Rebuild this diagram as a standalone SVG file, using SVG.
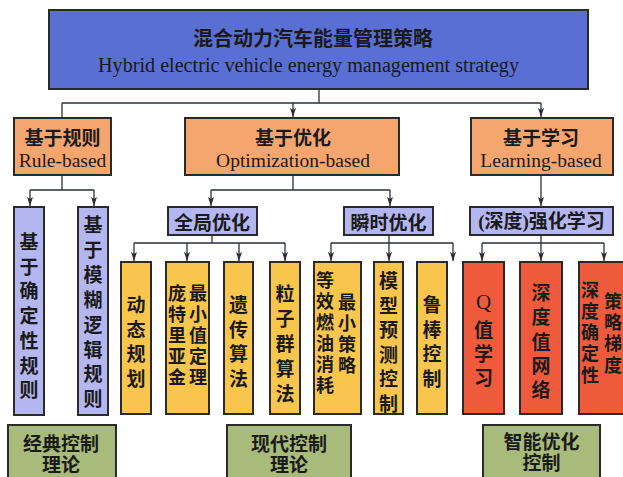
<svg xmlns="http://www.w3.org/2000/svg" width="623" height="477" viewBox="0 0 623 477">
<defs>
<marker id="ah" markerUnits="userSpaceOnUse" markerWidth="10" markerHeight="8" refX="9" refY="3" orient="auto">
<path d="M0,0 L9,3 L0,6 L2,3 z" fill="#2b2f3a"/>
</marker>
<style>
.box{stroke:#2a2a2a;stroke-width:2}
.top{fill:#5a6fd3}
.org{fill:#f5a56e}
.lb{fill:#b4b6f0}
.yl{fill:#f8c64c}
.rd{fill:#f05a3c}
.gr{fill:#a8bb7a}
.cn{font-family:"Noto Sans CJK SC","Liberation Serif",sans-serif;font-weight:700;fill:#1a1a1a}
.en{font-family:"Liberation Serif","Noto Sans CJK SC",serif;fill:#1a1a1a}
.c{text-anchor:middle}
.v{text-anchor:middle;dominant-baseline:central}
.ln{fill:none;stroke:#2b2f3a;stroke-width:1.3}
</style>
</defs>
<rect width="623" height="477" fill="#ffffff"/>

<g id="connectors">
<path class="ln" d="M319,89 V103 M62,103 H541 M62,103 V117"/>
<path class="ln" d="M293,103 V117" marker-end="url(#ah)"/>
<path class="ln" d="M541,103 V117" marker-end="url(#ah)"/>
<path class="ln" d="M62,175 V190 M30,190 H94"/>
<path class="ln" d="M30,190 V206" marker-end="url(#ah)"/>
<path class="ln" d="M94,190 V206" marker-end="url(#ah)"/>
<path class="ln" d="M293,175 V190 M211,190 H390"/>
<path class="ln" d="M211,190 V206" marker-end="url(#ah)"/>
<path class="ln" d="M390,190 V206" marker-end="url(#ah)"/>
<path class="ln" d="M541,175 V206" marker-end="url(#ah)"/>
<path class="ln" d="M212,235 V243 M134,243 H285"/>
<path class="ln" d="M134,243 V261" marker-end="url(#ah)"/>
<path class="ln" d="M187,243 V261" marker-end="url(#ah)"/>
<path class="ln" d="M239,243 V261" marker-end="url(#ah)"/>
<path class="ln" d="M285,243 V261" marker-end="url(#ah)"/>
<path class="ln" d="M389,235 V243 M331,243 H453"/>
<path class="ln" d="M331,243 V261" marker-end="url(#ah)"/>
<path class="ln" d="M389,243 V261" marker-end="url(#ah)"/>
<path class="ln" d="M453,243 V261" marker-end="url(#ah)"/>
<path class="ln" d="M541,235 V243 M482,243 H604"/>
<path class="ln" d="M482,243 V261" marker-end="url(#ah)"/>
<path class="ln" d="M541,243 V261" marker-end="url(#ah)"/>
<path class="ln" d="M604,243 V261" marker-end="url(#ah)"/>
</g>

<g id="root">
<rect class="box top" x="49" y="10" width="539" height="79"/>
<text class="cn c" x="313" y="46" font-size="20">混合动力汽车能量管理策略</text>
<text class="en c" x="308.5" y="72" font-size="20" textLength="421" lengthAdjust="spacingAndGlyphs">Hybrid electric vehicle energy management strategy</text>
</g>

<g id="rule-based">
<rect class="box org" x="14" y="118" width="97" height="57"/>
<text class="cn c" x="62.5" y="145" font-size="19">基于规则</text>
<text class="en c" x="62.5" y="167" font-size="19.5">Rule-based</text>
</g>
<g id="optimization-based">
<rect class="box org" x="185" y="118" width="214" height="57"/>
<text class="cn c" x="293" y="145" font-size="19">基于优化</text>
<text class="en c" x="293" y="167" font-size="19.5">Optimization-based</text>
</g>
<g id="learning-based">
<rect class="box org" x="471" y="118" width="142" height="57"/>
<text class="cn c" x="541" y="145" font-size="19">基于学习</text>
<text class="en c" x="541" y="167" font-size="19.5">Learning-based</text>
</g>

<g id="deterministic-rule">
<rect class="box lb" x="14" y="207" width="30" height="208"/>
<text class="cn v" font-size="19"><tspan x="29" y="240">基</tspan><tspan x="29" y="264.7">于</tspan><tspan x="29" y="289.4">确</tspan><tspan x="29" y="314.1">定</tspan><tspan x="29" y="338.8">性</tspan><tspan x="29" y="363.5">规</tspan><tspan x="29" y="388">则</tspan></text>
</g>
<g id="fuzzy-rule">
<rect class="box lb" x="78" y="207" width="30" height="208"/>
<text class="cn v" font-size="19"><tspan x="93" y="223">基</tspan><tspan x="93" y="247.9">于</tspan><tspan x="93" y="272.8">模</tspan><tspan x="93" y="297.7">糊</tspan><tspan x="93" y="322.6">逻</tspan><tspan x="93" y="347.5">辑</tspan><tspan x="93" y="372.4">规</tspan><tspan x="93" y="397">则</tspan></text>
</g>

<g id="global-opt">
<rect class="box lb" x="168" y="207" width="89" height="28"/>
<text class="cn v" x="212" y="221" font-size="19">全局优化</text>
</g>
<g id="instant-opt">
<rect class="box lb" x="344" y="207" width="89" height="28"/>
<text class="cn v" x="388.5" y="221" font-size="19">瞬时优化</text>
</g>
<g id="deep-rl">
<rect class="box lb" x="470" y="207" width="143" height="28"/>
<text class="en v" x="541.5" y="221" font-size="19" font-weight="700">(深度)强化学习</text>
</g>

<g id="dp">
<rect class="box yl" x="121" y="262" width="30" height="152"/>
<text class="cn v" font-size="19"><tspan x="136" y="303">动</tspan><tspan x="136" y="327.7">态</tspan><tspan x="136" y="352.4">规</tspan><tspan x="136" y="377">划</tspan></text>
</g>
<g id="pmp">
<rect class="box yl" x="166" y="262" width="43" height="152"/>
<text class="cn v" font-size="18"><tspan x="177" y="292">庞</tspan><tspan x="177" y="313">特</tspan><tspan x="177" y="334">里</tspan><tspan x="177" y="355">亚</tspan><tspan x="177" y="376">金</tspan><tspan x="198" y="292">最</tspan><tspan x="198" y="313">小</tspan><tspan x="198" y="334">值</tspan><tspan x="198" y="355">定</tspan><tspan x="198" y="376">理</tspan></text>
</g>
<g id="ga">
<rect class="box yl" x="224" y="262" width="29" height="152"/>
<text class="cn v" font-size="19"><tspan x="238.5" y="303">遗</tspan><tspan x="238.5" y="327.7">传</tspan><tspan x="238.5" y="352.4">算</tspan><tspan x="238.5" y="377">法</tspan></text>
</g>
<g id="pso">
<rect class="box yl" x="270" y="262" width="30" height="152"/>
<text class="cn v" font-size="19"><tspan x="285" y="292">粒</tspan><tspan x="285" y="317">子</tspan><tspan x="285" y="342">群</tspan><tspan x="285" y="367">算</tspan><tspan x="285" y="392">法</tspan></text>
</g>
<g id="ecms">
<rect class="box yl" x="314" y="262" width="47" height="152"/>
<text class="cn v" font-size="18"><tspan x="325" y="279">等</tspan><tspan x="325" y="300">效</tspan><tspan x="325" y="321">燃</tspan><tspan x="325" y="342">油</tspan><tspan x="325" y="363">消</tspan><tspan x="325" y="384">耗</tspan><tspan x="347" y="301">最</tspan><tspan x="347" y="322">小</tspan><tspan x="347" y="343">策</tspan><tspan x="347" y="364">略</tspan></text>
</g>
<g id="mpc">
<rect class="box yl" x="374" y="262" width="29" height="152"/>
<text class="cn v" font-size="19"><tspan x="388.5" y="279">模</tspan><tspan x="388.5" y="303.6">型</tspan><tspan x="388.5" y="328.2">预</tspan><tspan x="388.5" y="352.8">测</tspan><tspan x="388.5" y="377.4">控</tspan><tspan x="388.5" y="402">制</tspan></text>
</g>
<g id="robust">
<rect class="box yl" x="417" y="262" width="30" height="152"/>
<text class="cn v" font-size="19"><tspan x="432" y="303">鲁</tspan><tspan x="432" y="327.7">棒</tspan><tspan x="432" y="352.4">控</tspan><tspan x="432" y="377">制</tspan></text>
</g>

<g id="q-learning">
<rect class="box rd" x="463" y="262" width="41" height="152"/>
<text class="cn v" font-size="19"><tspan x="483.5" y="302" font-family="Liberation Serif" font-weight="400" font-size="21">Q</tspan><tspan x="483.5" y="327.5">值</tspan><tspan x="483.5" y="352">学</tspan><tspan x="483.5" y="376">习</tspan></text>
</g>
<g id="dqn">
<rect class="box rd" x="520" y="262" width="42" height="152"/>
<text class="cn v" font-size="19"><tspan x="541" y="291">深</tspan><tspan x="541" y="315.3">度</tspan><tspan x="541" y="339.6">值</tspan><tspan x="541" y="363.9">网</tspan><tspan x="541" y="388">络</tspan></text>
</g>
<g id="ddpg">
<rect class="box rd" x="579" y="262" width="60" height="152"/>
<text class="cn v" font-size="18"><tspan x="590" y="289">深</tspan><tspan x="590" y="310">度</tspan><tspan x="590" y="331">确</tspan><tspan x="590" y="352">定</tspan><tspan x="590" y="374">性</tspan><tspan x="613" y="300">策</tspan><tspan x="613" y="321">略</tspan><tspan x="613" y="342">梯</tspan><tspan x="613" y="364">度</tspan></text>
</g>

<g id="classical">
<rect class="box gr" x="8" y="425" width="108" height="60"/>
<text class="cn v" x="61" y="442" font-size="19">经典控制</text>
<text class="cn v" x="61" y="463" font-size="19">理论</text>
</g>
<g id="modern">
<rect class="box gr" x="227" y="425" width="124" height="60"/>
<text class="cn v" x="289" y="442" font-size="19">现代控制</text>
<text class="cn v" x="289" y="463" font-size="19">理论</text>
</g>
<g id="intelligent">
<rect class="box gr" x="483" y="425" width="117" height="60"/>
<text class="cn v" x="541.5" y="440" font-size="19">智能优化</text>
<text class="cn v" x="541.5" y="461" font-size="19">控制</text>
</g>
</svg>
